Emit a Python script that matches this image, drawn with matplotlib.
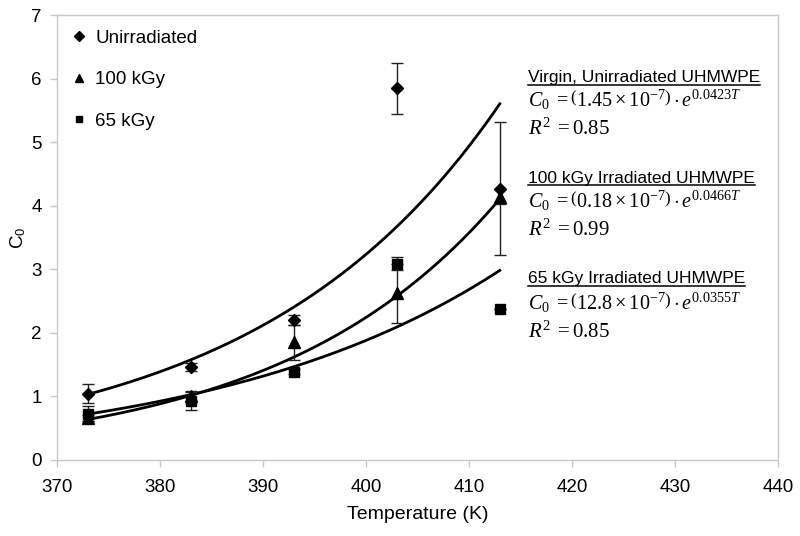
import numpy as np
import matplotlib
matplotlib.use("Agg")
import matplotlib.pyplot as plt
from matplotlib.lines import Line2D

plt.rcParams['font.family'] = ['Liberation Sans', 'DejaVu Sans']
plt.rcParams['mathtext.fontset'] = 'custom'
plt.rcParams['mathtext.rm'] = 'Liberation Serif'
plt.rcParams['mathtext.it'] = 'Liberation Serif:italic'
plt.rcParams['mathtext.sf'] = 'Liberation Sans'

temps = [373, 383, 393, 403, 413]
unirr = [1.04, 1.46, 2.20, 5.85, 4.27]
unirr_err = [0.15, 0.06, 0.08, 0.40, 1.05]
kgy100 = [0.66, 1.00, 1.85, 2.62, 4.14]
kgy100_err = [0.05, 0.07, 0.28, 0.47, 0.12]
kgy65 = [0.73, 0.93, 1.39, 3.09, 2.37]
kgy65_err = [0.12, 0.15, 0.04, 0.10, 0.0]

fit_a = [1.45e-7, 0.18e-7, 12.8e-7]
fit_b = [0.0423, 0.0466, 0.0355]

fig = plt.figure(figsize=(8, 5.36), dpi=100)
ax = fig.add_axes([0.071, 0.1418, 0.9015, 0.8302])

T = np.linspace(373, 413, 200)
for a, b in zip(fit_a, fit_b):
    ax.plot(T, a * np.exp(b * T), color='black', lw=2, zorder=2)

ekw = dict(ecolor='#222222', elinewidth=1, capsize=4, capthick=1, ls='none', color='black', zorder=3)
ax.errorbar(temps, unirr, yerr=unirr_err, marker='D', ms=6, label='Unirradiated', **ekw)
ax.errorbar(temps, kgy100, yerr=kgy100_err, marker='^', ms=8, label='100 kGy', **ekw)
ax.errorbar(temps, kgy65, yerr=kgy65_err, marker='s', ms=7, label='65 kGy', **ekw)

ax.set_xlim(370, 440)
ax.set_ylim(0, 7)
ax.set_xticks(range(370, 441, 10))
ax.set_yticks(range(0, 8))
for s in ax.spines.values():
    s.set_color('#c8c8c8')
    s.set_linewidth(1)
ax.tick_params(axis='both', colors='#c8c8c8', labelcolor='black', labelsize=13.5, length=5, width=1)
ax.tick_params(axis='x', pad=9)
ax.tick_params(axis='y', pad=6)
ax.set_xlabel('Temperature (K)', fontsize=14, labelpad=7)
ax.set_ylabel(r'C$_\mathsf{0}$', fontsize=13.5)
ax.yaxis.set_label_coords(-0.040, 0.5)

handles = [Line2D([], [], marker='D', ls='none', color='black', ms=5),
           Line2D([], [], marker='^', ls='none', color='black', ms=6),
           Line2D([], [], marker='s', ls='none', color='black', ms=5)]
ax.legend(handles, ['Unirradiated', '100 kGy', '65 kGy'], loc='upper left',
          bbox_to_anchor=(0.0, 1.005), frameon=False, fontsize=13.5,
          labelspacing=1.3, handlelength=0.6, handletextpad=0.55, borderaxespad=0.5)

# Annotations
heads = ['Virgin, Unirradiated UHMWPE', '100 kGy Irradiated UHMWPE', '65 kGy Irradiated UHMWPE']
eqs = [r'$C_0\ =\left(1.45\times10^{-7}\right)\cdot e^{0.0423T}$',
       r'$C_0\ =\left(0.18\times10^{-7}\right)\cdot e^{0.0466T}$',
       r'$C_0\ =\left(12.8\times10^{-7}\right)\cdot e^{0.0355T}$']
r2s = [r'$R^2\;=0.85$', r'$R^2\;=0.99$', r'$R^2\;=0.85$']
head_y = [82, 183, 283]
eq_y = [107, 208, 310]
r2_y = [135, 236, 338]
H = 536
x0 = 528 / 800
fig.canvas.draw()
renderer = fig.canvas.get_renderer()
for h, e, r, hy, ey, ry in zip(heads, eqs, r2s, head_y, eq_y, r2_y):
    t = fig.text(x0, 1 - hy / H, h, fontsize=12.5, va='baseline', ha='left')
    bb = t.get_window_extent(renderer)
    uy = 1 - (hy + 2.5) / H
    fig.add_artist(Line2D([bb.x0 / 800, bb.x1 / 800], [uy, uy], color='black', lw=1.1))
    fig.text(x0, 1 - ey / H, e, fontsize=14.5, va='baseline', ha='left')
    fig.text(x0, 1 - ry / H, r, fontsize=15, va='baseline', ha='left')

fig.savefig('out.png', dpi=100)
